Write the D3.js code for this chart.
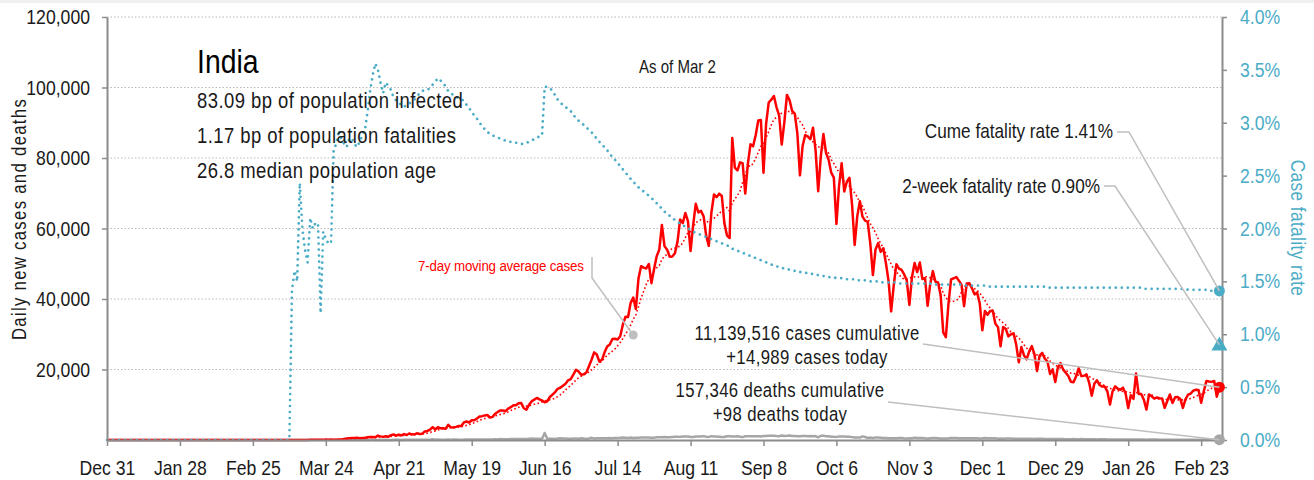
<!DOCTYPE html>
<html>
<head>
<meta charset="utf-8">
<script src="https://cdn.jsdelivr.net/npm/d3@7"></script>
<style>
  html, body { margin: 0; padding: 0; background: #fff; }
  svg { display: block; }
  text { font-family: "Liberation Sans", Arial, sans-serif; }
</style>
</head>
<body>
<svg id="chart" width="1314" height="480"></svg>
<script>
// ---- Data: India, daily series from Dec 31 2019 to Mar 2 2021 ----
const firstDay = new Date(2019, 11, 31);
const axisEnd = new Date(2021, 2, 3);

const tickLabels = ["Dec 31", "Jan 28", "Feb 25", "Mar 24", "Apr 21", "May 19", "Jun 16", "Jul 14",
  "Aug 11", "Sep 8", "Oct 6", "Nov 3", "Dec 1", "Dec 29", "Jan 26", "Feb 23"];
const leftTicks = [20000, 40000, 60000, 80000, 100000, 120000];
const rightTicks = [0, 0.5, 1, 1.5, 2, 2.5, 3, 3.5, 4];

// daily new cases
const casesDaily = [
  0,
  // Jan 2020
  0,0,0,0,0,0,0,0,0,0, 0,0,0,0,0,0,0,0,0,0, 0,0,0,0,0,0,0,0,0,1, 0,
  // Feb
  0,1,1,0,0,0,0,0,0,0, 0,0,0,0,0,0,0,0,0,0, 0,0,0,0,0,0,0,0,0,
  // Mar
  0,2,0,22,2,1,3,5,4,6, 11,9,20,11,6,23,14,38,50,86, 66,103,37,121,70,160,100,87,146,176, 301,
  // Apr
  424,486,560,579,609,484,573,565,813,871, 854,758,1243,1031,886,1061,922,1370,1580,1239, 1537,1292,1667,1408,1835,1607,1568,1902,1705,1801,
  // May
  2396,2564,2952,3656,2971,3602,3344,3339,3175,4311, 3592,3562,3726,3967,3970,4987,5242,4970,5611,5609, 6088,6654,6767,6977,7113,6387,6566,7466,7964,8380, 8392,
  // Jun
  8171,8909,9304,9851,9887,10400,10500,9000,8600,9985, 10956,11458,11929,11502,11200,10700,11000,12200,12881,13586, 14516,14821,15413,15968,16922,17296,18552,19906,19459,18522,
  // Jul
  18653,19148,20903,22771,24850,24248,22252,22752,24879,26506, 27114,28637,28701,28498,29429,32695,34956,34884,38902,40425, 37148,45720,49310,48916,48661,49931,44500,48513,52123,54000, 61000,
  // Aug
  55000,54000,52000,52050,53000,56282,62538,61537,64399,62064, 53601,60963,66999,64553,65002,63490,57982,55079,64531,69652, 68898,69878,69239,61408,58000,57300,85700,77266,76472,78761, 78512,
  // Sep
  69921,78357,83883,83341,86432,90632,90802,75809,89706,95735, 96551,97570,94372,92071,83809,90123,97894,96424,93337,92605, 86961,75083,83347,86508,86052,85362,88600,82170,70589,80472,
  // Oct
  86821,81484,79476,75829,74442,61267,72049,78524,70496,73272, 74383,66732,55342,63509,67708,63371,62212,61871,55722,46790, 54044,55839,53370,54366,50129,45148,36469,43893,49881,48648, 48268,
  // Nov
  46963,45231,38310,46253,50209,47638,50357,45674,45903,38073, 44281,47905,44878,44684,41100,30548,29163,38617,45576,45882, 46232,45209,44059,37975,44376,44489,43082,41322,41810,38772,
  // Dec
  31118,36604,35551,36595,36652,32981,32080,26567,32080,31521, 29398,30006,30254,27071,22065,26382,24010,22890,25152,26624, 24337,19556,23950,24712,23067,22273,18732,20021,16432,20550, 21822,
  // Jan 2021
  20035,19078,18177,16504,16375,18088,20346,18139,18222,18645, 16311,12584,15968,16946,15590,15158,15144,13788,10064,13823, 15223,14545,14256,14849,13203,9102,12689,11666,18855,13083, 13052,
  // Feb
  11427,8635,12899,12408,11713,12059,11831,11800,9110,11067, 12923,10500,12143,12194,11649,9121,11610,12881,13193,13993, 14264,14199,10584,13742,16738,16577,16488,16752,
  // Mar
  12286,14989
];

// daily deaths
const deathsDaily = [
  0,
  // Jan 2020
  0,0,0,0,0,0,0,0,0,0, 0,0,0,0,0,0,0,0,0,0, 0,0,0,0,0,0,0,0,0,0, 0,
  // Feb
  0,0,0,0,0,0,0,0,0,0, 0,0,0,0,0,0,0,0,0,0, 0,0,0,0,0,0,0,0,0,
  // Mar
  0,0,0,0,0,0,0,0,0,0, 1,0,1,0,0,0,1,0,1,1, 1,3,2,1,1,4,3,4,6,5, 9,
  // Apr
  3,12,15,8,30,32,14,36,31,33, 42,35,27,37,28,38,30,23,36,47, 37,33,45,60,49,56,44,58,69,73,
  // May
  69,75,68,194,89,128,95,103,97,128, 87,121,134,100,103,120,157,134,147,134, 140,148,137,142,147,146,170,194,175,265, 193,
  // Jun
  230,204,260,273,294,287,260,266,274,357, 396,386,389,325,381,2003,341,336,375,306, 445,465,445,410,384,381,410,418,380,507,
  // Jul
  434,379,444,613,425,467,482,475,487,519, 551,500,553,582,606,687,671,543,681,587, 637,648,740,740,705,708,636,654,768,779, 764,
  // Aug
  853,771,803,857,904,933,886,1007,1007,1007, 871,834,1007,996,1012,1098,942,876,1092,977, 986,912,836,848,1057,1059,1021,1027,1057,948, 819,
  // Sep
  1045,1043,1096,1066,1089,1065,1016,1133,1115,1209, 1213,1201,1114,1054,1290,1132,1174,1247,1115,1130, 1053,1085,1129,1141,1089,1124,1039,1124,776,1179,
  // Oct
  1181,1095,1069,940,903,884,986,971,964,926, 918,816,706,730,680,1033,837,579,706,587, 717,702,650,577,578,489,488,517,470,563, 551,
  // Nov
  490,449,490,514,670,578,577,559,490,448, 512,550,547,518,447,435,449,474,584,584, 564,511,511,482,485,524,492,496,496,443,
  // Dec
  482,540,526,512,482,512,387,402,355,412, 442,391,336,355,354,355,341,338,347,333, 278,377,336,333,251,270,279,251,286,264, 297,
  // Jan 2021
  256,179,217,214,264,222,222,251,235,234, 224,201,202,175,190,191,181,145,137,162, 151,163,152,127,132,127,137,123,163,127, 108,
  // Feb
  120,94,107,120,115,127,78,84,84,78, 98,94,92,78,78,99,101,104,97,101, 91,78,89,138,120,112,113,106,
  // Mar
  117,98
];

// cumulative case fatality rate, percent
const fatalityRate = [
  0,
  // Jan 2020
  0,0,0,0,0,0,0,0,0,0, 0,0,0,0,0,0,0,0,0,0, 0,0,0,0,0,0,0,0,0,0, 0,
  // Feb
  0,0,0,0,0,0,0,0,0,0, 0,0,0,0,0,0,0,0,0,0, 0,0,0,0,0,0,0,0,0,
  // Mar
  0,0,0,0,0,0,0,0,0,0, 1.42,1.6,1.5,2.43,2.0,1.8,1.68,2.1,2.0,2.05, 2.05,1.2,1.97,1.9,1.86,1.86,2.74,2.8,2.93,2.85, 2.8,
  // Apr
  2.77,2.85,2.85,2.8,2.77,2.82,2.88,2.93,3.1,3.3, 3.45,3.56,3.5,3.38,3.28,3.38,3.35,3.31,3.24,3.21, 3.19,3.17,3.15,3.17,3.18,3.2,3.22,3.25,3.28,3.3,
  // May
  3.31,3.31,3.33,3.36,3.39,3.42,3.4,3.38,3.34,3.3, 3.28,3.26,3.25,3.23,3.22,3.21,3.17,3.14,3.1,3.07, 3.04,3.0,2.97,2.94,2.91,2.9,2.88,2.87,2.86,2.85, 2.84,
  // Jun
  2.83,2.82,2.82,2.81,2.81,2.81,2.8,2.8,2.81,2.82, 2.83,2.85,2.86,2.87,2.88,3.34,3.34,3.33,3.3,3.26, 3.22,3.19,3.17,3.15,3.13,3.11,3.07,3.05,3.02,3.0,
  // Jul
  2.98,2.96,2.93,2.91,2.88,2.85,2.82,2.79,2.77,2.74, 2.71,2.67,2.65,2.62,2.59,2.56,2.53,2.5,2.47,2.44, 2.42,2.39,2.37,2.35,2.33,2.31,2.29,2.26,2.24,2.21, 2.19,
  // Aug
  2.16,2.14,2.12,2.1,2.08,2.06,2.05,2.03,2.02,2.0, 1.99,1.97,1.96,1.95,1.94,1.93,1.92,1.91,1.9,1.89, 1.88,1.87,1.86,1.85,1.84,1.83,1.81,1.8,1.79,1.78, 1.77,
  // Sep
  1.76,1.75,1.74,1.73,1.72,1.71,1.7,1.69,1.68,1.67, 1.66,1.65,1.64,1.64,1.63,1.62,1.62,1.61,1.6,1.6, 1.59,1.59,1.58,1.58,1.58,1.57,1.57,1.56,1.56,1.55,
  // Oct
  1.55,1.55,1.54,1.54,1.54,1.53,1.53,1.53,1.53,1.52, 1.52,1.52,1.52,1.51,1.51,1.51,1.51,1.5,1.5,1.5, 1.5,1.5,1.49,1.49,1.49,1.49,1.49,1.49,1.49,1.48, 1.48,
  // Nov
  1.48,1.48,1.48,1.48,1.48,1.48,1.48,1.48,1.48,1.48, 1.48,1.47,1.47,1.47,1.47,1.47,1.47,1.47,1.47,1.47, 1.47,1.47,1.47,1.46,1.46,1.46,1.46,1.46,1.46,1.46,
  // Dec
  1.46,1.46,1.46,1.45,1.45,1.45,1.45,1.45,1.45,1.45, 1.45,1.45,1.45,1.45,1.45,1.45,1.45,1.45,1.45,1.45, 1.45,1.45,1.45,1.45,1.45,1.44,1.44,1.44,1.44,1.44, 1.44,
  // Jan 2021
  1.44,1.44,1.44,1.44,1.44,1.44,1.44,1.44,1.44,1.44, 1.44,1.44,1.44,1.44,1.44,1.44,1.44,1.44,1.44,1.44, 1.44,1.44,1.44,1.44,1.44,1.44,1.44,1.44,1.44,1.44, 1.44,
  // Feb
  1.43,1.43,1.43,1.43,1.43,1.43,1.43,1.43,1.43,1.43, 1.43,1.43,1.43,1.43,1.43,1.43,1.43,1.42,1.42,1.42, 1.42,1.42,1.42,1.42,1.42,1.42,1.41,1.41,
  // Mar
  1.41,1.41
];

const statLines = ["83.09 bp of population infected", "1.17 bp of population fatalities", "26.8 median population age"];
const latest = { cases: 14989, deaths: 98, cumCases: 11139516, cumDeaths: 157346, cfr: 1.41, cfr2wk: 0.90 };

// ---- Layout ----
const svg = d3.select("#chart");
const plot = { left: 107, right: 1222, top: 17, bottom: 440 };
const RED = "#ff0000", BLUE = "#4bacc6", GRAY = "#a6a6a6", LEADER = "#bfbfbf", AXIS = "#8c8c8c", INK = "#1a1a1a";
const NX = 0.86; // horizontal squeeze that gives the narrow lettering

const dates = casesDaily.map((_, i) => d3.timeDay.offset(firstDay, i));
const x = d3.scaleTime().domain([firstDay, axisEnd]).range([plot.left, plot.right]);
const yL = d3.scaleLinear().domain([0, 120000]).range([plot.bottom, plot.top]);
const yR = d3.scaleLinear().domain([0, 4]).range([plot.bottom, plot.top]);
const tickDates = tickLabels.map((_, k) => d3.timeDay.offset(firstDay, 28 * k));

// trailing 7-day average of daily cases
const movingAvg = casesDaily.map((_, i) => i < 6 ? null : d3.mean(casesDaily.slice(i - 6, i + 1)));

// narrow text helper
function addText(parent, o) {
  return parent.append("text")
    .attr("transform", `translate(${o.x},${o.y}) rotate(${o.rotate || 0}) scale(${NX},1)`)
    .attr("text-anchor", o.anchor || "start")
    .attr("font-size", o.size)
    .attr("letter-spacing", o.ls || 0)
    .attr("fill", o.fill || INK)
    .text(o.text);
}

// light band along the top edge
svg.append("rect").attr("x", 0).attr("y", 0).attr("width", 1314).attr("height", 3).attr("fill", "#f0f0f0");

// gridlines
svg.append("g").selectAll("line").data(leftTicks).join("line")
  .attr("x1", plot.left).attr("x2", plot.right)
  .attr("y1", d => yL(d)).attr("y2", d => yL(d))
  .attr("stroke", "#b8b8b8").attr("stroke-width", 1).attr("stroke-dasharray", "1.5,2");

// series
const lineL = d3.line().x((d, i) => x(dates[i])).y(d => yL(d));
const lineR = d3.line().x((d, i) => x(dates[i])).y(d => yR(d));

svg.append("path").datum(deathsDaily).attr("d", lineL)
  .attr("fill", "none").attr("stroke", GRAY).attr("stroke-width", 2.5).attr("stroke-linejoin", "round");

svg.append("path").datum(casesDaily).attr("d", lineL)
  .attr("fill", "none").attr("stroke", RED).attr("stroke-width", 2.5).attr("stroke-linejoin", "round");

svg.append("path").datum(movingAvg)
  .attr("d", d3.line().defined(d => d !== null).x((d, i) => x(dates[i])).y(d => yL(d)))
  .attr("fill", "none").attr("stroke", RED).attr("stroke-width", 1.6).attr("stroke-dasharray", "1.6,2.4");

svg.append("path").datum(fatalityRate).attr("d", lineR)
  .attr("fill", "none").attr("stroke", BLUE).attr("stroke-width", 2.7)
  .attr("stroke-linecap", "round").attr("stroke-dasharray", "0.01,6");

// axes
function styleAxis(g, color) {
  g.select(".domain").attr("stroke", AXIS).attr("stroke-width", 2);
  g.selectAll(".tick line").attr("stroke", AXIS).attr("stroke-width", 1.5);
  g.selectAll(".tick text")
    .attr("fill", color).attr("font-size", 20.5)
    .style("font-family", '"Liberation Sans", Arial, sans-serif')
    .each(function () {
      const t = d3.select(this);
      const x0 = +t.attr("x") || 0;
      t.attr("x", x0 / NX).attr("transform", `scale(${NX},1)`);
    });
}

svg.append("g").attr("transform", `translate(${plot.left},0)`)
  .call(d3.axisLeft(yL).tickValues(leftTicks).tickFormat(d3.format(",")).tickSize(5).tickPadding(12).tickSizeOuter(0))
  .call(g => styleAxis(g, INK));

svg.append("g").attr("transform", `translate(0,${plot.bottom})`)
  .call(d3.axisBottom(x).tickValues(tickDates).tickFormat((d, i) => tickLabels[i]).tickSize(6).tickPadding(14).tickSizeOuter(0))
  .call(g => styleAxis(g, INK));

svg.append("g").attr("transform", `translate(${plot.right},0)`)
  .call(d3.axisRight(yR).tickValues(rightTicks).tickFormat(d => d.toFixed(1) + "%").tickSize(5).tickPadding(13).tickSizeOuter(0))
  .call(g => styleAxis(g, BLUE));

// axis titles
addText(svg, { x: 26, y: 219, rotate: -90, anchor: "middle", size: 19.5, ls: 1.5, text: "Daily new cases and deaths" });
addText(svg, { x: 1291, y: 228, rotate: 90, anchor: "middle", size: 20, ls: 0.5, fill: BLUE, text: "Case fatality rate" });

// title block
addText(svg, { x: 197, y: 72.5, size: 33, fill: "#000", text: "India" });
statLines.forEach((s, i) => addText(svg, { x: 197, y: 108 + 35 * i, size: 21.5, ls: 0.5, text: s }));
addText(svg, { x: 639, y: 73, size: 17.5, text: "As of Mar 2" });

// end-of-series markers
const xEnd = x(dates[dates.length - 1]);
const markers = svg.append("g");
markers.append("circle").attr("cx", xEnd).attr("cy", yR(latest.cfr)).attr("r", 5.5).attr("fill", BLUE);
markers.append("path").attr("d", d3.symbol(d3.symbolTriangle, 110)())
  .attr("transform", `translate(${xEnd},${yR(latest.cfr2wk) + 1})`).attr("fill", BLUE);
markers.append("circle").attr("cx", xEnd).attr("cy", yL(latest.cases)).attr("r", 5.5).attr("fill", RED);
markers.append("circle").attr("cx", xEnd).attr("cy", yL(latest.deaths)).attr("r", 5.5).attr("fill", GRAY);

// annotations with leader lines
const fmt = d3.format(",");
function leader(points) {
  svg.append("path").attr("d", d3.line()(points))
    .attr("fill", "none").attr("stroke", LEADER).attr("stroke-width", 1.5);
}

addText(svg, { x: 1113, y: 138, anchor: "end", size: 20, text: `Cume fatality rate ${latest.cfr.toFixed(2)}%` });
leader([[1117, 132], [1129, 132], [xEnd, yR(latest.cfr)]]);

addText(svg, { x: 1100, y: 193, anchor: "end", size: 20, text: `2-week fatality rate ${latest.cfr2wk.toFixed(2)}%` });
leader([[1104, 186], [1115, 186], [xEnd, yR(latest.cfr2wk)]]);

addText(svg, { x: 807, y: 340, anchor: "middle", size: 19.5, ls: 0.4, text: `${fmt(latest.cumCases)} cases cumulative` });
addText(svg, { x: 807, y: 364, anchor: "middle", size: 19.5, ls: 0.4, text: `+${fmt(latest.cases)} cases today` });
leader([[923, 344], [xEnd, yL(latest.cases)]]);

addText(svg, { x: 780, y: 397, anchor: "middle", size: 19.5, ls: 0.4, text: `${fmt(latest.cumDeaths)} deaths cumulative` });
addText(svg, { x: 780, y: 421, anchor: "middle", size: 19.5, ls: 0.4, text: `+${fmt(latest.deaths)} deaths today` });
leader([[888, 402], [xEnd, yL(latest.deaths)]]);

// moving-average callout, anchored on the curve in data units
const maAnchor = { day: 202, value: 29800 };
const ax = x(dates[maAnchor.day]), ay = yL(maAnchor.value);
addText(svg, { x: 418, y: 271, size: 15.5, ls: -0.2, fill: RED, text: "7-day moving average cases" });
leader([[592, 257], [592, 278], [ax, ay]]);
svg.append("circle").attr("cx", ax).attr("cy", ay).attr("r", 4.5).attr("fill", LEADER);
</script>
</body>
</html>
